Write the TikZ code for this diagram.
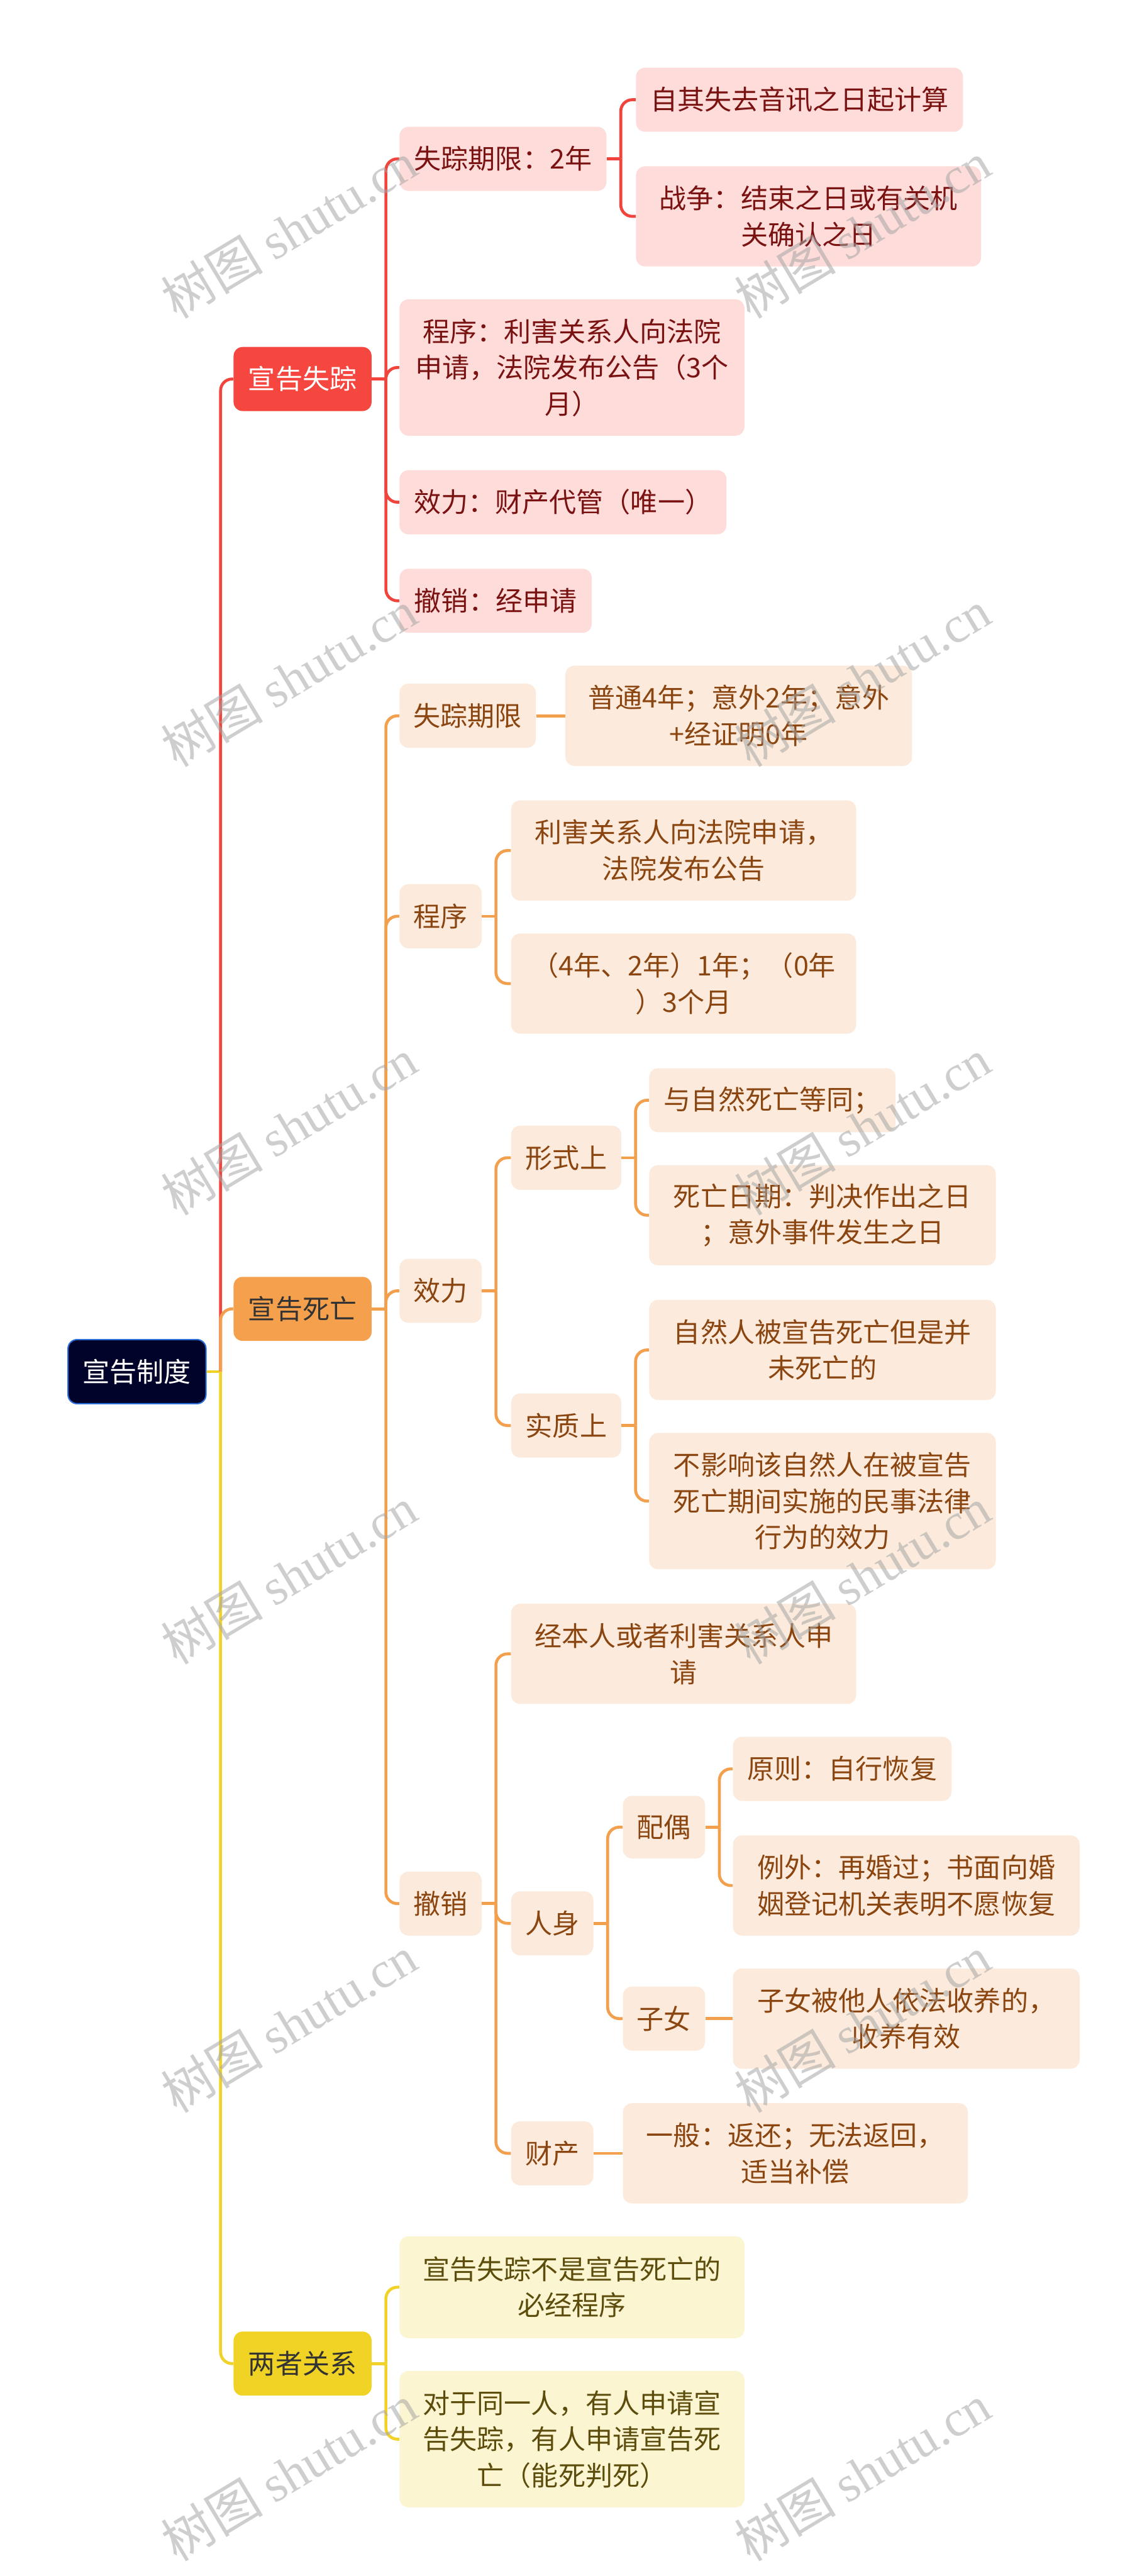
\documentclass[tikz,border=0pt]{standalone}
\usepackage{fontspec}
\setmainfont{Noto Sans CJK SC}
\newfontfamily\wmfont{Liberation Serif}
\usetikzlibrary{calc}
\definecolor{redc}{HTML}{F0443C}
\definecolor{redfill}{HTML}{F5463F}
\definecolor{pinkfill}{HTML}{FDDCDA}
\definecolor{maroon}{HTML}{7A1212}
\definecolor{orc}{HTML}{F2A04E}
\definecolor{orfill}{HTML}{F5A04C}
\definecolor{peachfill}{HTML}{FCEBDC}
\definecolor{browntext}{HTML}{8A4510}
\definecolor{yelc}{HTML}{F0D228}
\definecolor{yelfill}{HTML}{F1D325}
\definecolor{lyelfill}{HTML}{FBF5D2}
\definecolor{olivetext}{HTML}{5C4D0C}
\definecolor{rootfill}{HTML}{00022A}
\definecolor{rootborder}{HTML}{2D6FD9}
\definecolor{darktext}{HTML}{333333}
\newcommand{\mmbus}[2]{\coordinate (b#1) at ($(#1.east)+(8.5,0)$); \draw[conn,#2] (#1.east) -- (b#1);}
\newcommand{\mmlink}[3]{\draw[conn,#3] (b#1) |- (#2.west);}
\begin{document}
\begin{tikzpicture}[x=1pt,y=-1pt,
  box/.style={rectangle, rounded corners=5.5pt, inner sep=0pt, align=center, anchor=north west,
    font=\fontsize{16.5}{22}\selectfont},
  sz/.style 2 args={minimum width=#1pt, minimum height=#2pt},
  rootbox/.style={box, fill=rootfill, draw=rootborder, line width=0.8pt, text=white},
  redbox/.style={box, fill=redfill, text=white},
  orbox/.style={box, fill=orfill, text=darktext},
  yelbox/.style={box, fill=yelfill, text=darktext},
  pinkbox/.style={box, fill=pinkfill, text=maroon},
  peachbox/.style={box, fill=peachfill, text=browntext},
  lyelbox/.style={box, fill=lyelfill, text=olivetext},
  conn/.style={line width=1.8pt, rounded corners=7pt},
  wm/.style={rotate=31, text=black!35, text opacity=0.55, font=\fontsize{31}{31}\selectfont, inner sep=0pt}
]
\fill[white] (0,0) rectangle (698.2,1568);
\useasboundingbox (0,0) rectangle (698.2,1568);

% root and level 1
\node[rootbox, sz={84}{39}] (root) at (41,815) {宣告制度};
\node[redbox, sz={84}{39}] (mis) at (142,211) {宣告失踪};
\node[orbox, sz={84}{39}] (dea) at (142,777) {宣告死亡};
\node[yelbox, sz={84}{39}] (rel) at (142,1419) {两者关系};

% 宣告失踪 branch
\node[pinkbox, sz={126}{39}] (m1) at (243,77) {失踪期限：2年};
\node[pinkbox, sz={210}{83}] (m2) at (243,182) {程序：利害关系人向法院\\申请，法院发布公告（3个\\月）};
\node[pinkbox, sz={199}{39}] (m3) at (243,286) {效力：财产代管（唯一）};
\node[pinkbox, sz={117}{39}] (m4) at (243,346) {撤销：经申请};
\node[pinkbox, sz={199}{39}] (m11) at (387,41) {自其失去音讯之日起计算};
\node[pinkbox, sz={210}{61}] (m12) at (387,101) {战争：结束之日或有关机\\关确认之日};

% 宣告死亡 branch
\node[peachbox, sz={83}{39}] (d1) at (243,416) {失踪期限};
\node[peachbox, sz={211}{61}] (d11) at (344,405) {普通4年；意外2年；意外\\+经证明0年};
\node[peachbox, sz={50}{39}] (d2) at (243,538) {程序};
\node[peachbox, sz={210}{61}] (d21) at (311,487) {利害关系人向法院申请，\\法院发布公告};
\node[peachbox, sz={210}{61}] (d22) at (311,568) {（4年、2年）1年；（0年\\）3个月};
\node[peachbox, sz={50}{39}] (d3) at (243,766) {效力};
\node[peachbox, sz={67}{39}] (d31) at (311,685) {形式上};
\node[peachbox, sz={67}{39}] (d32) at (311,848) {实质上};
\node[peachbox, sz={150}{39}] (d311) at (395,650) {与自然死亡等同；};
\node[peachbox, sz={211}{61}] (d312) at (395,709) {死亡日期：判决作出之日\\；意外事件发生之日};
\node[peachbox, sz={211}{61}] (d321) at (395,791) {自然人被宣告死亡但是并\\未死亡的};
\node[peachbox, sz={211}{83}] (d322) at (395,872) {不影响该自然人在被宣告\\死亡期间实施的民事法律\\行为的效力};
\node[peachbox, sz={50}{39}] (d4) at (243,1139) {撤销};
\node[peachbox, sz={210}{61}] (d41) at (311,976) {经本人或者利害关系人申\\请};
\node[peachbox, sz={50}{39}] (d42) at (311,1151) {人身};
\node[peachbox, sz={50}{39}] (d43) at (311,1291) {财产};
\node[peachbox, sz={50}{38}] (d421) at (379,1093) {配偶};
\node[peachbox, sz={50}{39}] (d422) at (379,1209) {子女};
\node[peachbox, sz={133}{39}] (d4211) at (446,1057) {原则：自行恢复};
\node[peachbox, sz={211}{61}] (d4212) at (446,1117) {例外：再婚过；书面向婚\\姻登记机关表明不愿恢复};
\node[peachbox, sz={211}{61}] (d4221) at (446,1198) {子女被他人依法收养的，\\收养有效};
\node[peachbox, sz={210}{61}] (d431) at (379,1280) {一般：返还；无法返回，\\适当补偿};

% 两者关系 branch
\node[lyelbox, sz={210}{62}] (r1) at (243,1361) {宣告失踪不是宣告死亡的\\必经程序};
\node[lyelbox, sz={210}{83}] (r2) at (243,1443) {对于同一人，有人申请宣\\告失踪，有人申请宣告死\\亡（能死判死）};

% connectors
\mmbus{root}{yelc}
\mmlink{root}{mis}{redc}
\mmlink{root}{dea}{orc}
\mmlink{root}{rel}{yelc}

\mmbus{mis}{redc}
\mmlink{mis}{m1}{redc}
\mmlink{mis}{m2}{redc}
\mmlink{mis}{m3}{redc}
\mmlink{mis}{m4}{redc}
\mmbus{m1}{redc}
\mmlink{m1}{m11}{redc}
\mmlink{m1}{m12}{redc}

\mmbus{dea}{orc}
\mmlink{dea}{d1}{orc}
\mmlink{dea}{d2}{orc}
\mmlink{dea}{d3}{orc}
\mmlink{dea}{d4}{orc}
\draw[conn,orc] (d1.east) -- (d11.west);
\mmbus{d2}{orc}
\mmlink{d2}{d21}{orc}
\mmlink{d2}{d22}{orc}
\mmbus{d3}{orc}
\mmlink{d3}{d31}{orc}
\mmlink{d3}{d32}{orc}
\mmbus{d31}{orc}
\mmlink{d31}{d311}{orc}
\mmlink{d31}{d312}{orc}
\mmbus{d32}{orc}
\mmlink{d32}{d321}{orc}
\mmlink{d32}{d322}{orc}
\mmbus{d4}{orc}
\mmlink{d4}{d41}{orc}
\mmlink{d4}{d42}{orc}
\mmlink{d4}{d43}{orc}
\mmbus{d42}{orc}
\mmlink{d42}{d421}{orc}
\mmlink{d42}{d422}{orc}
\mmbus{d421}{orc}
\mmlink{d421}{d4211}{orc}
\mmlink{d421}{d4212}{orc}
\draw[conn,orc] (d422.east) -- (d4221.west);
\draw[conn,orc] (d43.east) -- (d431.west);

\mmbus{rel}{yelc}
\mmlink{rel}{r1}{yelc}
\mmlink{rel}{r2}{yelc}

% watermarks
\foreach \wy [count=\i] in {140,413,686,959,1232,1505} {
  \node[wm] (wl\i) at (176,\wy) {树图 {\wmfont shutu.cn}};
  \node[wm] (wr\i) at (525,\wy) {树图 {\wmfont shutu.cn}};
}
\end{tikzpicture}
\end{document}
